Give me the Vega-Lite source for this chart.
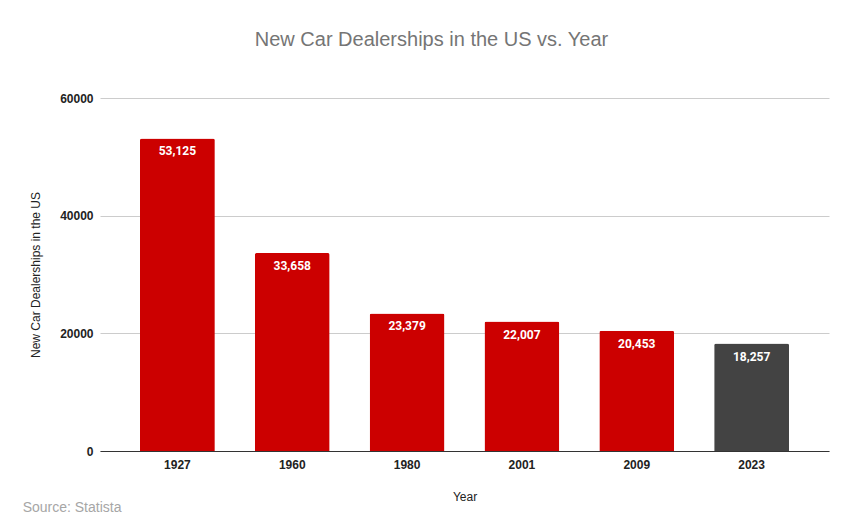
{
  "$schema": "https://vega.github.io/schema/vega-lite/v6.json",
  "padding": {"left": 22, "top": 30, "right": 5, "bottom": 5},
  "background": "white",
  "title": {
    "text": "New Car Dealerships in the US vs. Year",
    "font": "Liberation Sans",
    "fontSize": 20,
    "fontWeight": "normal",
    "color": "#757575",
    "anchor": "middle",
    "frame": "group",
    "dx": -33,
    "offset": 42
  },
  "config": {
    "font": "Liberation Sans",
    "view": {"stroke": null},
    "concat": {"spacing": 0}
  },
  "data": {
    "values": [
      {"Year": "1927", "Dealerships": 53125, "Group": "past"},
      {"Year": "1960", "Dealerships": 33658, "Group": "past"},
      {"Year": "1980", "Dealerships": 23379, "Group": "past"},
      {"Year": "2001", "Dealerships": 22007, "Group": "past"},
      {"Year": "2009", "Dealerships": 20453, "Group": "past"},
      {"Year": "2023", "Dealerships": 18257, "Group": "current"}
    ]
  },
  "vconcat": [
    {
      "width": 729,
      "height": 353,
      "title": {
        "text": "Source: Statista",
        "orient": "bottom",
        "anchor": "start",
        "frame": "bounds",
        "font": "Liberation Sans",
        "fontSize": 14,
        "fontWeight": "normal",
        "color": "#a6a6a6",
        "offset": -1,
        "dx": -7
      },
      "encoding": {
        "x": {
          "field": "Year",
          "type": "ordinal",
          "sort": null,
          "scale": {"paddingInner": 0.348, "paddingOuter": 0.348},
          "axis": {
            "title": "Year",
            "titleFont": "Liberation Sans",
            "titleFontSize": 12,
            "titleFontWeight": "normal",
            "titleColor": "#222222",
            "titlePadding": 21,
            "labelAngle": 0,
            "labelFont": "Liberation Sans",
            "labelFontSize": 12,
            "labelFontWeight": "bold",
            "labelColor": "#222222",
            "labelPadding": 8,
            "ticks": false,
            "domainColor": "#333333",
            "domainWidth": 1
          }
        },
        "y": {
          "field": "Dealerships",
          "type": "quantitative",
          "scale": {"domain": [0, 60000], "nice": false},
          "axis": {
            "title": "New Car Dealerships in the US",
            "titleFont": "Liberation Sans",
            "titleFontSize": 12,
            "titleFontWeight": "normal",
            "titleColor": "#222222",
            "titlePadding": 17,
            "values": [0, 20000, 40000, 60000],
            "format": "d",
            "labelFont": "Liberation Sans",
            "labelFontSize": 12,
            "labelFontWeight": "bold",
            "labelColor": "#222222",
            "labelPadding": 7,
            "ticks": false,
            "domain": false,
            "gridColor": "#cccccc",
            "gridWidth": 1
          }
        }
      },
      "layer": [
        {
          "mark": {"type": "bar", "cornerRadiusTopLeft": 2, "cornerRadiusTopRight": 2},
          "encoding": {
            "color": {
              "field": "Group",
              "type": "nominal",
              "scale": {"domain": ["past", "current"], "range": ["#cc0000", "#434343"]},
              "legend": null
            }
          }
        },
        {
          "mark": {
            "type": "text",
            "baseline": "middle",
            "align": "center",
            "dy": 13,
            "font": "Roboto",
            "fontSize": 12,
            "fontWeight": "bold",
            "color": "white"
          },
          "encoding": {
            "text": {"field": "Dealerships", "type": "quantitative", "format": ","}
          }
        }
      ]
    }
  ]
}
